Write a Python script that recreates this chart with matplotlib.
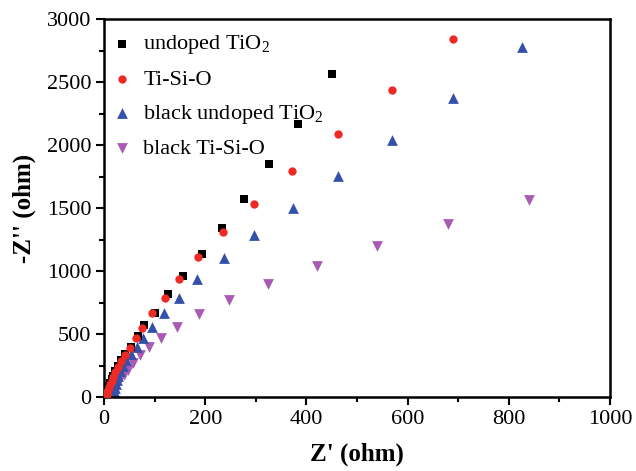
import matplotlib
matplotlib.use("Agg")
import matplotlib.pyplot as plt
import matplotlib.ticker as mticker

plt.rcParams['font.family'] = ['Liberation Serif', 'DejaVu Serif']
plt.rcParams['mathtext.fontset'] = 'custom'
plt.rcParams['mathtext.rm'] = 'Liberation Serif'
plt.rcParams['mathtext.it'] = 'Liberation Serif:italic'
plt.rcParams['mathtext.bf'] = 'Liberation Serif:bold'

# Nyquist data (Z' and -Z'' in ohm)
undoped_x = [450, 383, 326, 276, 233, 193, 157, 126, 101, 80, 67, 53, 41,
             33, 27, 22, 18, 15, 12, 10, 8, 6, 5, 4, 3]
undoped_y = [2561, 2169, 1847, 1571, 1341, 1135, 960, 815, 669, 571, 484, 399, 339,
             290, 245, 205, 170, 140, 110, 85, 62, 42, 25, 12, 3]

tisio_x = [690, 569, 462, 372, 296, 236, 186, 148, 120, 95, 76, 63, 51, 41,
           33, 27, 22, 18, 15, 12, 10, 8, 6, 5, 4]
tisio_y = [2841, 2434, 2087, 1794, 1532, 1307, 1113, 934, 788, 665, 550, 466, 391, 333,
           282, 236, 196, 160, 130, 100, 76, 55, 36, 20, 8]

black_undoped_x = [827, 690, 569, 463, 373, 297, 237, 184, 148, 119, 95, 78, 65, 53,
                   44, 37, 32, 28, 25, 23, 21, 20, 19, 18]
black_undoped_y = [2780, 2375, 2037, 1752, 1498, 1283, 1103, 934, 788, 664, 558, 466, 399, 339,
                   290, 245, 205, 170, 135, 105, 75, 50, 28, 10]

black_tisio_x = [840, 679, 540, 421, 325, 247, 188, 145, 112, 89, 71, 57,
                 47, 39, 32, 26, 21, 17, 14, 11, 9, 8]
black_tisio_y = [1563, 1373, 1198, 1042, 897, 770, 656, 553, 471, 394, 333, 267,
                 215, 175, 140, 110, 82, 60, 40, 24, 10, 2]

fig = plt.figure(figsize=(6.36, 4.71), dpi=100)
ax = fig.add_axes([104 / 636, 1 - 397 / 471, 506 / 636, 378 / 471])

ax.scatter(undoped_x, undoped_y, marker='s', s=30, color='black', linewidths=0,
           label='undoped TiO$_2$', zorder=3)
ax.scatter(tisio_x, tisio_y, marker='o', s=36, color='#ee2a24', linewidths=0,
           label='Ti-Si-O', zorder=4)
ax.scatter(black_undoped_x, black_undoped_y, marker='^', s=60, color='#3550a8', linewidths=0,
           label='black undoped TiO$_2$', zorder=2)
ax.scatter(black_tisio_x, black_tisio_y, marker='v', s=60, color='#a95bb4', linewidths=0,
           label='black Ti-Si-O', zorder=1)

ax.set_xlim(0, 1000)
ax.set_ylim(0, 3000)
ax.xaxis.set_major_locator(mticker.MultipleLocator(200))
ax.xaxis.set_minor_locator(mticker.MultipleLocator(100))
ax.yaxis.set_major_locator(mticker.MultipleLocator(500))
ax.yaxis.set_minor_locator(mticker.MultipleLocator(250))
ax.tick_params(which='major', direction='out', length=6, width=1.5, labelsize=16,
               top=False, right=False, pad=3)
ax.tick_params(which='minor', direction='out', length=3.5, width=1.5, top=False, right=False)
for sp in ax.spines.values():
    sp.set_linewidth(1.8)

ax.set_xlabel("Z' (ohm)", fontsize=18, fontweight='bold', labelpad=10)
ax.set_ylabel("-Z'' (ohm)", fontsize=18, fontweight='bold', labelpad=8)

leg = ax.legend(loc='upper left', frameon=False, fontsize=16, handletextpad=0.5,
                labelspacing=0.58, borderaxespad=0.25, handlelength=0.9,
                bbox_to_anchor=(-0.012, 1.0))

fig.savefig('out.png', dpi=100)
